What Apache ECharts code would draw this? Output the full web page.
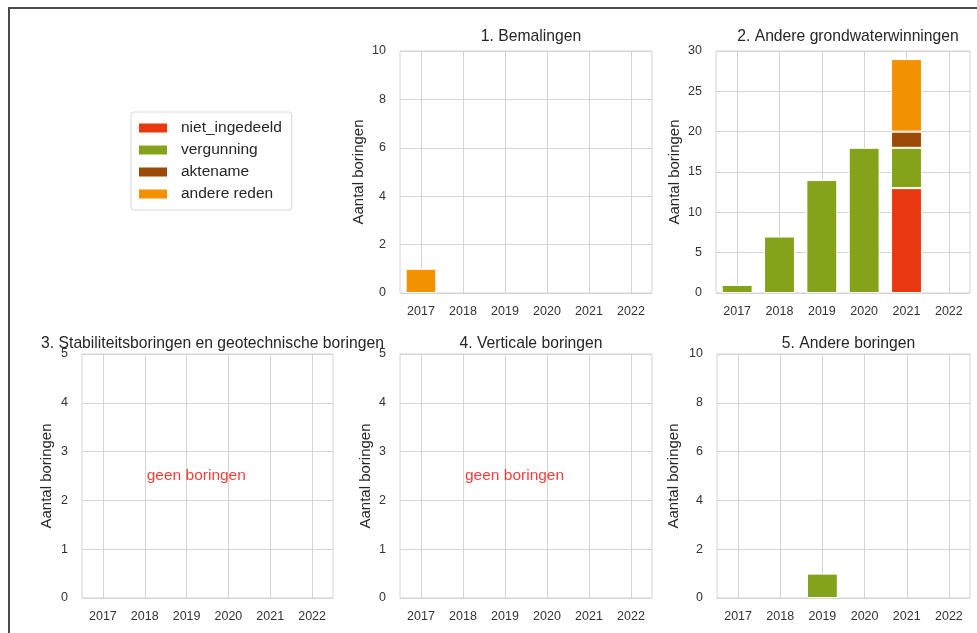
<!DOCTYPE html>
<html>
<head>
<meta charset="utf-8">
<script src="https://cdn.jsdelivr.net/npm/echarts/dist/echarts.min.js"></script>
<style>
html, body { margin: 0; padding: 0; background: #fff; }
#chart { width: 977px; height: 633px; }
</style>
</head>
<body>
<div id="chart"></div>
<script>
// jaren en redenen
var years = ['2017', '2018', '2019', '2020', '2021', '2022'];
var reasons = ['niet_ingedeeld', 'vergunning', 'aktename', 'andere reden'];
var reasonColors = ['#e8380f', '#84a31a', '#9c4a08', '#f39200'];

var panelTitles = [
    '1. Bemalingen',
    '2. Andere grondwaterwinningen',
    '3. Stabiliteitsboringen en geotechnische boringen',
    '4. Verticale boringen',
    '5. Andere boringen'
];
var yMax = [10, 30, 5, 5, 10];
var yStep = [2, 5, 1, 1, 2];

// 1. Bemalingen
var bemNiet = [0, 0, 0, 0, 0, 0];
var bemVerg = [0, 0, 0, 0, 0, 0];
var bemAkte = [0, 0, 0, 0, 0, 0];
var bemAndere = [1, 0, 0, 0, 0, 0];
// 2. Andere grondwaterwinningen
var gwNiet = [0, 0, 0, 0, 13, 0];
var gwVerg = [1, 7, 14, 18, 5, 0];
var gwAkte = [0, 0, 0, 0, 2, 0];
var gwAndere = [0, 0, 0, 0, 9, 0];
// 3. en 4. geen boringen
var stabNiet = [0, 0, 0, 0, 0, 0];
var stabVerg = [0, 0, 0, 0, 0, 0];
var stabAkte = [0, 0, 0, 0, 0, 0];
var stabAndere = [0, 0, 0, 0, 0, 0];
var vertNiet = [0, 0, 0, 0, 0, 0];
var vertVerg = [0, 0, 0, 0, 0, 0];
var vertAkte = [0, 0, 0, 0, 0, 0];
var vertAndere = [0, 0, 0, 0, 0, 0];
// 5. Andere boringen
var andNiet = [0, 0, 0, 0, 0, 0];
var andVerg = [0, 0, 1, 0, 0, 0];
var andAkte = [0, 0, 0, 0, 0, 0];
var andAndere = [0, 0, 0, 0, 0, 0];

var panelData = [
    [bemNiet, bemVerg, bemAkte, bemAndere],
    [gwNiet, gwVerg, gwAkte, gwAndere],
    [stabNiet, stabVerg, stabAkte, stabAndere],
    [vertNiet, vertVerg, vertAkte, vertAndere],
    [andNiet, andVerg, andAkte, andAndere]
];

// plaats van de vakjes
var boxes = [
    {left: 400, top: 51, width: 252, height: 242, gap: 34, tTop: 27},
    {left: 716, top: 51, width: 254, height: 242, gap: 34, tTop: 27},
    {left: 82, top: 354, width: 251, height: 244, gap: 28, tTop: 23},
    {left: 400, top: 354, width: 252, height: 244, gap: 27, tTop: 23},
    {left: 717, top: 354, width: 253, height: 244, gap: 36, tTop: 23}
];

var font = 'Liberation Sans, Arial, sans-serif';
var gridColor = '#d4d4d4';

var myChart = echarts.init(document.getElementById('chart'));

var grids = [], xAxes = [], yAxes = [], titles = [], series = [];

boxes.forEach(function (b, i) {
    grids.push({
        left: b.left, top: b.top, width: b.width, height: b.height,
        show: true, borderColor: gridColor, borderWidth: 1,
        backgroundColor: '#fff',
        containLabel: false, outerBoundsMode: 'none'
    });
    titles.push({
        text: panelTitles[i],
        left: b.left + b.width / 2,
        top: b.top - b.tTop,
        textAlign: 'center',
        textStyle: {fontFamily: font, fontSize: 15.7, fontWeight: 'normal', color: '#262626'}
    });
    xAxes.push({
        type: 'category',
        gridIndex: i,
        data: years,
        axisLine: {show: false},
        axisTick: {show: false},
        splitLine: {show: true, alignWithLabel: true, lineStyle: {color: gridColor, width: 1}},
        axisLabel: {fontFamily: font, fontSize: 12.5, color: '#333', margin: 12, interval: 0}
    });
    yAxes.push({
        type: 'value',
        gridIndex: i,
        min: 0,
        max: yMax[i],
        interval: yStep[i],
        name: 'Aantal boringen',
        nameLocation: 'middle',
        nameGap: b.gap,
        nameTextStyle: {fontFamily: font, fontSize: 15, color: '#262626'},
        axisLine: {show: false},
        axisTick: {show: false},
        splitLine: {show: true, lineStyle: {color: gridColor, width: 1}},
        axisLabel: {fontFamily: font, fontSize: 12.5, color: '#333', margin: 14}
    });
    reasons.forEach(function (r, k) {
        series.push({
            name: r,
            type: 'bar',
            xAxisIndex: i,
            yAxisIndex: i,
            stack: 'panel' + i,
            barWidth: '73%',
            itemStyle: {color: reasonColors[k], borderColor: '#fff', borderWidth: 1},
            data: panelData[i][k].map(function (v) { return v === 0 ? '-' : v; })
        });
    });
});

// lege vakjes: tekst "geen boringen"
[2, 3].forEach(function (i) {
    series.push({
        type: 'scatter',
        xAxisIndex: i,
        yAxisIndex: i,
        symbolSize: 0,
        silent: true,
        data: [['2018', 2.5]],
        label: {
            show: true,
            position: 'right',
            distance: 2,
            formatter: 'geen boringen',
            fontFamily: font,
            fontSize: 15.5,
            color: '#f50a0a'
        }
    });
});

var option = {
    animation: false,
    backgroundColor: '#fff',
    title: titles,
    grid: grids,
    xAxis: xAxes,
    yAxis: yAxes,
    legend: {
        data: reasons,
        orient: 'vertical',
        left: 131,
        top: 112,
        icon: 'rect',
        itemWidth: 30,
        itemHeight: 11,
        itemGap: 6,
        padding: [8, 10, 8, 6],
        borderColor: '#d8d8d8',
        borderWidth: 1,
        borderRadius: 3,
        selectedMode: false,
        textStyle: {fontFamily: font, fontSize: 15.5, color: '#262626', padding: [0, 0, 0, 8]}
    },
    graphic: [{
        type: 'rect',
        silent: true,
        shape: {x: 9, y: 8, width: 1100, height: 800},
        style: {fill: 'none', stroke: '#4a4a4a', lineWidth: 2}
    }],
    series: series
};

myChart.setOption(option);
</script>
</body>
</html>
